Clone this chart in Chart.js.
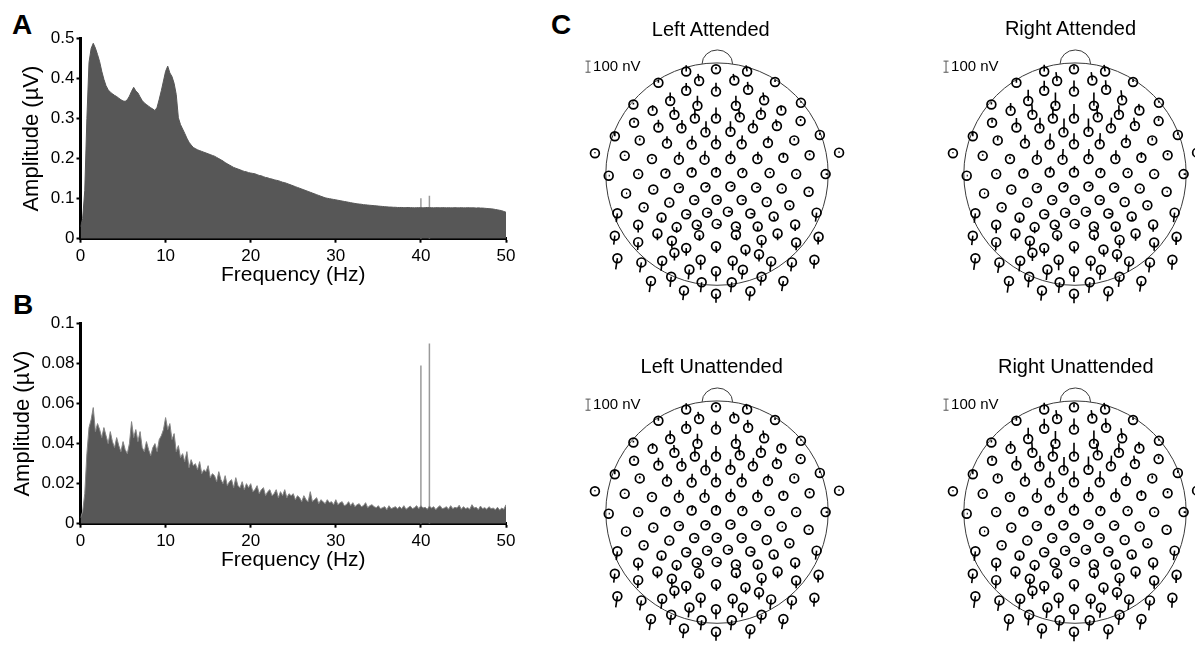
<!DOCTYPE html>
<html lang="en">
<head>
<meta charset="UTF-8">
<title>Spectra and scalp topographies</title>
<script src="https://cdn.jsdelivr.net/npm/chart.js"></script>
<style>
    body {
        margin: 0;
        background: #fff;
        font-family: 'Liberation Sans', Arial, sans-serif;
    }
    #fig {
        position: relative;
        width: 1195px;
        height: 645px;
        overflow: hidden;
    }
    canvas, .lbl { position: absolute; }
    .panel { font-size: 28px; font-weight: bold; line-height: 28px; }
    .head-title { font-size: 20px; line-height: 24px; width: 240px; text-align: center; }
</style>
</head>
<body>
<div id="fig">
    <div class="lbl panel" style="left:12px;top:11px">A</div>
    <div class="lbl panel" style="left:13px;top:291px">B</div>
    <div class="lbl panel" style="left:551px;top:11px">C</div>

    <canvas id="specA" width="530" height="300" style="left:0;top:0"></canvas>
    <canvas id="specB" width="530" height="300" style="left:0;top:285px"></canvas>

    <canvas id="headLA" width="312" height="324"></canvas>
    <canvas id="headRA" width="312" height="324"></canvas>
    <canvas id="headLU" width="312" height="324"></canvas>
    <canvas id="headRU" width="312" height="324"></canvas>
</div>

<script>
// ---- spectra (A: average amplitude, B: amplitude of the average), 0.25 Hz bins from 0 to 50 Hz
const freqStep = 0.25;

const ampA = [
    0.03,0.05,0.12,0.30,0.44,0.475,0.488,0.476,0.46,0.442,0.418,0.398,0.382,0.372,0.366,0.362,0.358,0.355,0.351,0.347,
    0.344,0.343,0.347,0.356,0.368,0.378,0.369,0.364,0.354,0.345,0.339,0.335,0.331,0.327,0.324,0.32,0.328,0.348,0.37,0.394,
    0.418,0.431,0.414,0.405,0.388,0.36,0.302,0.285,0.274,0.263,0.251,0.241,0.234,0.228,0.225,0.222,0.22,0.218,0.216,0.214,
    0.212,0.21,0.208,0.206,0.203,0.2,0.197,0.194,0.19,0.187,0.184,0.181,0.178,0.176,0.174,0.172,0.17,0.168,0.167,0.165,
    0.164,0.163,0.162,0.16,0.158,0.157,0.155,0.153,0.152,0.15,0.149,0.147,0.146,0.145,0.143,0.141,0.14,0.138,0.136,0.134,
    0.132,0.13,0.128,0.126,0.124,0.122,0.12,0.118,0.116,0.114,0.112,0.11,0.108,0.106,0.104,0.102,0.101,0.1,0.099,0.098,
    0.097,0.096,0.095,0.094,0.093,0.092,0.091,0.09,0.089,0.088,0.087,0.0865,0.086,0.085,0.0845,0.084,0.0835,0.083,0.0825,0.082,
    0.0815,0.081,0.0805,0.08,0.0795,0.079,0.079,0.0785,0.0785,0.078,0.078,0.078,0.0775,0.0775,0.078,0.0775,0.0775,0.077,0.0775,0.0775,
    0.0775,0.077,0.0775,0.078,0.0775,0.0775,0.077,0.0775,0.0775,0.077,0.0775,0.0775,0.077,0.0775,0.077,0.077,0.0775,0.077,0.077,0.0775,
    0.077,0.077,0.0775,0.077,0.077,0.077,0.0765,0.077,0.0765,0.0765,0.076,0.0755,0.075,0.0745,0.074,0.073,0.072,0.071,0.07,0.068,
    0.066
];

const ampB = [
    0.003,0.006,0.015,0.035,0.048,0.052,0.058,0.046,0.05,0.047,0.043,0.048,0.044,0.04,0.046,0.041,0.038,0.043,0.039,0.036,
    0.041,0.037,0.035,0.04,0.051,0.043,0.047,0.041,0.046,0.038,0.036,0.041,0.037,0.034,0.038,0.04,0.036,0.042,0.044,0.047,
    0.053,0.047,0.05,0.042,0.045,0.036,0.039,0.033,0.035,0.031,0.036,0.028,0.032,0.029,0.03,0.027,0.031,0.025,0.027,0.026,
    0.029,0.023,0.025,0.024,0.021,0.026,0.022,0.02,0.024,0.019,0.021,0.022,0.018,0.023,0.019,0.018,0.021,0.017,0.02,0.018,
    0.02,0.016,0.017,0.019,0.015,0.017,0.018,0.014,0.016,0.017,0.014,0.015,0.017,0.013,0.016,0.014,0.017,0.013,0.015,0.014,
    0.015,0.012,0.014,0.013,0.011,0.014,0.012,0.011,0.016,0.011,0.012,0.013,0.01,0.012,0.011,0.01,0.012,0.0105,0.011,0.0095,
    0.012,0.0095,0.0105,0.011,0.009,0.0095,0.011,0.009,0.0105,0.0085,0.0095,0.01,0.0085,0.009,0.0105,0.008,0.009,0.0095,0.0085,0.008,
    0.009,0.0075,0.008,0.0085,0.007,0.009,0.0075,0.008,0.0085,0.0075,0.0085,0.0075,0.009,0.0072,0.008,0.0088,0.0075,0.008,0.009,0.0075,
    0.009,0.0078,0.0082,0.0072,0.0088,0.0078,0.0085,0.007,0.0082,0.009,0.0075,0.0078,0.0085,0.0072,0.009,0.0075,0.0082,0.0078,0.0092,0.0072,
    0.0085,0.0075,0.008,0.0072,0.0095,0.0078,0.0082,0.007,0.0088,0.0075,0.008,0.0072,0.0085,0.0075,0.0078,0.007,0.0082,0.0068,0.0078,0.0072,
    0.0095
];

// stimulation frequencies show up as narrow lines
const spikeFreqs = [40, 41];
const spikeA = [0.101, 0.107];
const spikeB = [0.079, 0.090];

// ---- electrode montage (head radius = 10 units, nose up)
const elecPos = [
    [-2.77,9.22],[-0.09,9.42],[2.71,9.22],
    [-5.27,8.21],[-1.61,8.36],[1.56,8.41],[5.22,8.27],
    [-2.77,7.49],[-0.09,7.41],[2.80,7.58],
    [-7.52,6.25],[-4.21,6.57],[-1.76,6.14],[1.70,6.14],[4.24,6.63],[7.55,6.40],
    [-5.79,5.68],[-3.83,5.33],[-1.99,4.99],[-0.09,4.99],[2.05,5.10],[3.95,5.33],[5.79,5.71],
    [-7.46,4.61],[-5.27,4.18],[-3.20,4.12],[-1.04,3.75],[1.21,3.80],[3.23,4.12],[5.39,4.32],[7.52,4.76],
    [-9.19,3.40],[-6.95,3.03],[-4.50,2.74],[-2.28,2.65],[-0.09,2.68],[2.22,2.68],[4.58,2.80],[6.95,3.03],[9.25,3.52],
    [-10.98,1.87],[-8.30,1.64],[-5.85,1.35],[-3.43,1.30],[-1.12,1.30],[1.21,1.35],[3.63,1.35],[5.97,1.47],[8.33,1.70],[10.98,1.93],
    [-9.74,-0.14],[-7.09,0],[-4.64,0.06],[-2.28,0.14],[-0.09,0.14],[2.28,0.09],[4.73,0.09],[7.12,0],[9.77,0],
    [-8.18,-1.73],[-5.73,-1.38],[-3.43,-1.24],[-1.04,-1.18],[1.21,-1.12],[3.52,-1.21],[5.82,-1.30],[8.24,-1.59],
    [-6.60,-2.97],[-4.29,-2.56],[-2.05,-2.33],[-0.03,-2.31],[2.22,-2.33],[4.47,-2.51],[6.51,-2.80],
    [-8.96,-3.52],[-4.99,-3.89],[-2.77,-3.60],[-0.89,-3.46],[0.98,-3.37],[3.00,-3.54],[5.10,-3.80],[8.96,-3.46],
    [-7.09,-4.55],[-3.63,-4.76],[-1.82,-4.55],[-0.03,-4.47],[1.70,-4.70],[3.66,-4.70],[7.03,-4.52],
    [-9.19,-5.53],[-5.36,-5.33],[-1.61,-5.48],[1.70,-5.45],[5.45,-5.33],[9.14,-5.62],
    [-7.09,-6.11],[-4.06,-5.99],[4.01,-5.91],[7.12,-6.14],
    [-2.77,-6.63],[-0.09,-6.48],[2.56,-6.77],
    [-3.83,-7.06],[3.78,-7.20],
    [-8.96,-7.55],[-6.80,-7.93],[-4.93,-7.78],[-1.47,-7.69],[1.41,-7.78],[4.87,-7.84],[6.74,-7.93],[8.76,-7.69],
    [-2.48,-8.56],[-0.09,-8.73],[2.33,-8.59],
    [-4.12,-9.22],[4.01,-9.22],
    [-5.94,-9.60],[-1.38,-9.71],[1.33,-9.71],[5.97,-9.60],
    [-2.97,-10.46],[-0.09,-10.75],[3.00,-10.52]
];

// 40 Hz response vectors per electrode, [dx, dy] in nV
const vecLeftAtt = [
    [0,55],[0,20],[-10,55],
    [0,25],[-10,65],[-10,60],[0,20],
    [0,70],[0,80],[-5,70],
    [0,15],[0,75],[0,90],[0,90],[-10,70],[0,15],
    [0,50],[-5,70],[0,80],[0,100],[-10,80],[0,65],[-5,45],
    [0,20],[0,70],[5,75],[5,100],[0,95],[5,75],[-10,60],[0,20],
    [0,35],[0,20],[0,65],[5,80],[0,80],[5,80],[5,60],[0,20],[0,20],
    [0,10],[0,10],[0,15],[5,70],[5,80],[5,75],[5,65],[0,40],[0,15],[0,10],
    [10,0],[10,0],[15,25],[10,45],[5,50],[10,30],[10,10],[10,0],[20,0],
    [10,0],[10,-5],[25,10],[25,15],[25,10],[25,5],[10,0],[10,5],
    [10,-10],[10,0],[25,0],[25,0],[25,0],[10,0],[10,-15],
    [-10,-80],[0,-40],[30,-5],[30,0],[30,0],[30,-5],[10,-30],[-10,-80],
    [0,-70],[0,-50],[25,-15],[30,-10],[25,-15],[0,-40],[0,-60],
    [-10,-80],[0,-60],[5,-50],[10,-50],[0,-60],[-5,-70],
    [-5,-70],[0,-70],[0,-70],[0,-70],
    [0,-70],[5,-60],[5,-60],
    [0,-70],[0,-65],
    [-15,-100],[-15,-90],[-10,-90],[0,-90],[0,-85],[-10,-90],[-10,-80],[-5,-80],
    [-10,-90],[0,-90],[-10,-85],
    [-10,-90],[-10,-80],
    [-15,-100],[-10,-90],[-10,-90],[-15,-90],
    [-10,-85],[0,-80],[-10,-85]
];

const vecRightAtt = [
    [0,60],[0,30],[-10,60],
    [0,30],[-10,80],[-10,75],[0,25],
    [0,90],[0,100],[-5,85],
    [0,20],[0,100],[0,120],[0,120],[-10,90],[0,20],
    [0,70],[-5,95],[0,105],[0,130],[-10,105],[0,85],[-5,60],
    [0,30],[0,85],[5,95],[5,125],[0,120],[5,95],[-10,75],[0,25],
    [0,40],[0,30],[0,80],[5,100],[0,100],[5,100],[5,75],[0,25],[0,25],
    [0,10],[0,15],[0,20],[5,85],[5,95],[5,90],[5,80],[0,50],[0,20],[0,10],
    [10,0],[10,5],[15,35],[10,55],[5,60],[10,40],[10,15],[10,0],[20,0],
    [10,0],[10,-5],[25,15],[25,20],[25,15],[25,10],[10,0],[10,5],
    [10,-10],[10,0],[25,0],[25,5],[25,0],[10,0],[10,-15],
    [-10,-85],[0,-45],[30,-5],[30,0],[30,0],[30,-5],[10,-35],[-10,-85],
    [0,-75],[0,-55],[25,-20],[30,-10],[25,-20],[0,-45],[0,-65],
    [-10,-85],[0,-65],[5,-55],[10,-55],[0,-65],[-5,-75],
    [-5,-75],[0,-75],[0,-75],[0,-75],
    [0,-75],[5,-65],[5,-65],
    [0,-75],[0,-70],
    [-15,-105],[-15,-95],[-10,-95],[0,-95],[0,-90],[-10,-95],[-10,-90],[-5,-90],
    [-10,-95],[0,-95],[-10,-90],
    [-10,-95],[-10,-90],
    [-15,-105],[-10,-95],[-10,-95],[-15,-95],
    [-10,-90],[0,-85],[-10,-90]
];

const vecLeftUnatt = [
    [0,55],[0,20],[-10,50],
    [0,25],[-10,65],[-10,60],[0,20],
    [0,70],[0,75],[-5,70],
    [0,15],[0,75],[0,90],[0,85],[-10,70],[0,15],
    [0,50],[-5,70],[0,80],[0,95],[-10,80],[0,65],[-5,45],
    [0,20],[0,70],[5,75],[5,95],[0,95],[5,75],[-10,60],[0,20],
    [0,35],[0,20],[0,65],[5,80],[0,80],[5,80],[5,60],[0,20],[0,20],
    [0,10],[0,10],[0,15],[5,70],[5,75],[5,75],[5,65],[0,40],[0,15],[0,10],
    [10,0],[10,0],[15,25],[10,45],[5,50],[10,30],[10,10],[10,0],[20,0],
    [10,0],[10,-5],[25,10],[25,15],[25,10],[25,5],[10,0],[10,5],
    [10,-10],[10,0],[25,0],[25,0],[25,0],[10,0],[10,-15],
    [-10,-80],[0,-40],[30,-5],[30,0],[30,0],[30,-5],[10,-30],[-10,-80],
    [0,-70],[0,-50],[25,-15],[30,-10],[25,-15],[0,-40],[0,-60],
    [-10,-80],[0,-60],[5,-50],[10,-50],[0,-60],[-5,-70],
    [-5,-70],[0,-70],[0,-70],[0,-70],
    [0,-70],[5,-60],[5,-60],
    [0,-70],[0,-65],
    [-15,-100],[-15,-90],[-10,-90],[0,-90],[0,-85],[-10,-90],[-10,-80],[-5,-80],
    [-10,-90],[0,-90],[-10,-85],
    [-10,-90],[-10,-80],
    [-15,-100],[-10,-90],[-10,-90],[-15,-90],
    [-10,-85],[0,-80],[-10,-85]
];

const vecRightUnatt = [
    [0,60],[0,30],[-10,60],
    [0,30],[-10,80],[-10,75],[0,25],
    [0,90],[0,100],[-5,85],
    [0,20],[0,100],[0,115],[0,120],[-10,90],[0,20],
    [0,70],[-5,95],[0,105],[0,125],[-10,105],[0,85],[-5,60],
    [0,30],[0,85],[5,95],[5,120],[0,120],[5,95],[-10,75],[0,25],
    [0,40],[0,30],[0,80],[5,100],[0,100],[5,100],[5,75],[0,25],[0,25],
    [0,10],[0,15],[0,20],[5,85],[5,95],[5,90],[5,80],[0,50],[0,20],[0,10],
    [10,0],[10,5],[15,35],[10,55],[5,60],[10,40],[10,15],[10,0],[20,0],
    [10,0],[10,-5],[25,15],[25,20],[25,15],[25,10],[10,0],[10,5],
    [10,-10],[10,0],[25,0],[25,5],[25,0],[10,0],[10,-15],
    [-10,-85],[0,-45],[30,-5],[30,0],[30,0],[30,-5],[10,-35],[-10,-85],
    [0,-75],[0,-55],[25,-20],[30,-10],[25,-20],[0,-45],[0,-65],
    [-10,-85],[0,-65],[5,-55],[10,-55],[0,-65],[-5,-75],
    [-5,-75],[0,-75],[0,-75],[0,-75],
    [0,-75],[5,-65],[5,-65],
    [0,-75],[0,-70],
    [-15,-105],[-15,-95],[-10,-95],[0,-95],[0,-90],[-10,-95],[-10,-90],[-5,-90],
    [-10,-95],[0,-95],[-10,-90],
    [-10,-95],[-10,-90],
    [-15,-105],[-10,-95],[-10,-95],[-15,-95],
    [-10,-90],[0,-85],[-10,-90]
];

const nvPerUnit = 100;   // 100 nV drawn as one head unit, same as the scale bar

Chart.defaults.font.family = "'Liberation Sans', Arial, sans-serif";
Chart.defaults.color = '#000';

function tickText(v) {
    return String(Number(v.toFixed(3)));
}

function makeSpectrum(id, amps, spikes, yMax, yStep, yTitlePad, edgeColor) {
    const points = amps.map((v, i) => ({ x: i * freqStep, y: v }));
    const spikePts = [];
    spikeFreqs.forEach((f, i) => {
        spikePts.push({ x: f, y: 0 }, { x: f, y: spikes[i] }, { x: f, y: null });
    });
    const axisCommon = {
        grid: { display: true, drawOnChartArea: false, drawTicks: true, tickLength: 4, tickWidth: 2, color: '#000' },
        border: { display: true, width: 3, color: '#000' }
    };
    return new Chart(document.getElementById(id), {
        type: 'line',
        data: {
            datasets: [
                {
                    data: points,
                    fill: 'origin',
                    backgroundColor: '#575757',
                    borderColor: edgeColor,
                    borderWidth: 1,
                    pointRadius: 0,
                    tension: 0,
                    order: 1
                },
                {
                    data: spikePts,
                    borderColor: '#9a9a9a',
                    borderWidth: 1.5,
                    pointRadius: 0,
                    fill: false,
                    spanGaps: false,
                    order: 2
                }
            ]
        },
        options: {
            responsive: false,
            animation: false,
            layout: { padding: { top: 38.5, right: 24, bottom: 0, left: 0 } },
            plugins: { legend: { display: false }, tooltip: { enabled: false } },
            scales: {
                x: {
                    type: 'linear', min: 0, max: 50, offset: false,
                    ...axisCommon,
                    ticks: { stepSize: 10, font: { size: 17 }, padding: 3, maxRotation: 0, callback: tickText },
                    title: { display: true, text: 'Frequency (Hz)', font: { size: 21 }, padding: { top: 0, bottom: 12.4 } },
                    afterFit: s => { s.height = 61.3; }
                },
                y: {
                    min: 0, max: yMax,
                    ...axisCommon,
                    ticks: { stepSize: yStep, font: { size: 17 }, padding: 2, callback: tickText },
                    title: { display: true, text: 'Amplitude (µV)', font: { size: 22 }, padding: { top: yTitlePad, bottom: 0 } },
                    afterFit: s => { s.width = 80.5; }
                }
            }
        }
    });
}

makeSpectrum('specA', ampA, spikeA, 0.5, 0.1, 18.5, '#575757');
makeSpectrum('specB', ampB, spikeB, 0.1, 0.02, 9.5, '#858585');

// ---- topographies
const unitPx = 11.57;
const heads = [
    { id: 'headLA', title: 'Left Attended',    vecs: vecLeftAtt,    cx: 716.7,  cy: 175,   tx: 710.8 },
    { id: 'headRA', title: 'Right Attended',   vecs: vecRightAtt,   cx: 1075.3, cy: 174.5, tx: 1070.5 },
    { id: 'headLU', title: 'Left Unattended',  vecs: vecLeftUnatt,  cx: 717.3,  cy: 512.5, tx: 711.7 },
    { id: 'headRU', title: 'Right Unattended', vecs: vecRightUnatt, cx: 1075,   cy: 512.5, tx: 1075.8 }
];

const headOutline = {
    id: 'headOutline',
    beforeDatasetsDraw(chart) {
        const { ctx, scales: { x, y } } = chart;
        const px = v => x.getPixelForValue(v);
        const py = v => y.getPixelForValue(v);
        const r = px(10) - px(0);
        ctx.save();
        ctx.strokeStyle = '#3a3a3a';
        ctx.lineWidth = 1;
        ctx.beginPath();
        ctx.arc(px(0), py(0), r, 0, Math.PI * 2);
        ctx.stroke();
        // nose
        ctx.beginPath();
        ctx.ellipse(px(0.03), py(9.9), px(1.37) - px(0), py(9.9) - py(11.15), 0, Math.PI, Math.PI * 2);
        ctx.stroke();
        // 100 nV scale bar
        const bx = px(-11.6), top = py(9.65 + 0.5), bot = py(9.65 - 0.5);
        ctx.strokeStyle = '#555';
        ctx.lineWidth = 1;
        ctx.beginPath();
        ctx.moveTo(bx, top); ctx.lineTo(bx, bot);
        ctx.moveTo(bx - 2.5, top); ctx.lineTo(bx + 2.5, top);
        ctx.moveTo(bx - 2.5, bot); ctx.lineTo(bx + 2.5, bot);
        ctx.stroke();
        ctx.fillStyle = '#000';
        ctx.font = "15px 'Liberation Sans', Arial, sans-serif";
        ctx.textBaseline = 'middle';
        ctx.fillText('100 nV', bx + 5, py(9.65));
        ctx.restore();
    }
};

heads.forEach(h => {
    const cv = document.getElementById(h.id);
    const W = cv.width, H = cv.height;
    cv.style.left = (h.cx - W / 2) + 'px';
    cv.style.top = (h.cy - 15 * unitPx) + 'px';

    const t = document.createElement('div');
    t.className = 'lbl head-title';
    t.textContent = h.title;
    t.style.left = (h.tx - 120) + 'px';
    t.style.top = (h.cy - 158.5) + 'px';
    document.getElementById('fig').appendChild(t);

    const vecPts = [];
    elecPos.forEach(([ex, ey], i) => {
        const v = h.vecs[i] || [0, 0];
        vecPts.push({ x: ex, y: ey },
                    { x: ex + v[0] / nvPerUnit, y: ey + v[1] / nvPerUnit },
                    { x: ex, y: null });
    });

    new Chart(cv, {
        type: 'scatter',
        data: {
            datasets: [
                {
                    data: elecPos.map(([x, y]) => ({ x, y })),
                    pointRadius: 4.4,
                    pointBorderWidth: 1.7,
                    pointBackgroundColor: 'rgba(0,0,0,0)',
                    pointBorderColor: '#000',
                    clip: false
                },
                {
                    data: vecPts,
                    showLine: true,
                    spanGaps: false,
                    pointRadius: 0,
                    borderColor: '#000',
                    borderWidth: 1.6,
                    clip: false
                }
            ]
        },
        options: {
            responsive: false,
            animation: false,
            layout: { padding: 0 },
            plugins: { legend: { display: false }, tooltip: { enabled: false } },
            scales: {
                x: { type: 'linear', display: false, min: -W / 2 / unitPx, max: W / 2 / unitPx },
                y: { type: 'linear', display: false, min: 15 - H / unitPx, max: 15 }
            }
        },
        plugins: [headOutline]
    });
});
</script>
</body>
</html>
